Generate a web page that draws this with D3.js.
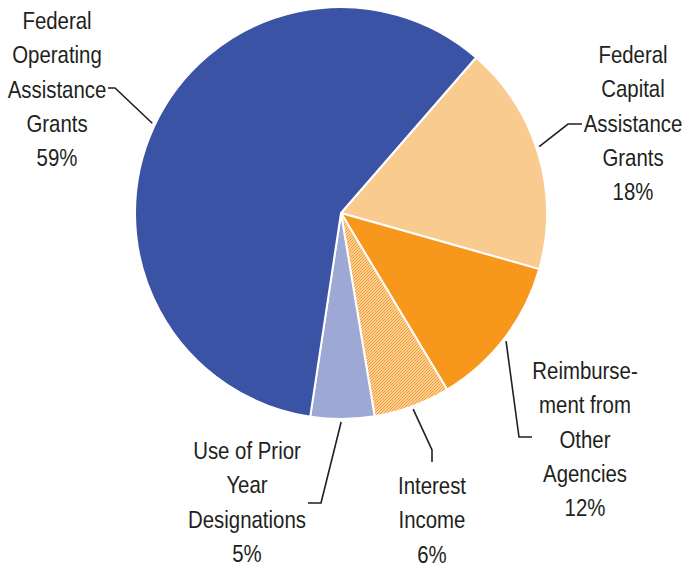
<!DOCTYPE html>
<html>
<head>
<meta charset="utf-8">
<script src="https://cdn.jsdelivr.net/npm/d3@7"></script>
<style>
  html, body { margin: 0; padding: 0; background: #ffffff; }
  svg text { font-family: "Liberation Sans", Arial, sans-serif; fill: #231f20; }
</style>
</head>
<body>
<svg id="chart" width="683" height="569"></svg>
<script>
// Revenue sources, clockwise from the upper right
const categories = [
  "Federal Capital Assistance Grants",
  "Reimbursement from Other Agencies",
  "Interest Income",
  "Use of Prior Year Designations",
  "Federal Operating Assistance Grants"
];
const shares = [18, 12, 6, 5, 59];
const labelLines = [
  ["Federal", "Capital", "Assistance", "Grants", "18%"],
  ["Reimburse-", "ment from", "Other", "Agencies", "12%"],
  ["Interest", "Income", "6%"],
  ["Use of Prior", "Year", "Designations", "5%"],
  ["Federal", "Operating", "Assistance", "Grants", "59%"]
];
const fills = ["#f9cb8f", "#f7981d", "url(#hatch)", "#9da8d4", "#3a53a4"];

const svg = d3.select("#chart");
const cx = 341, cy = 213, radius = 206;
const startDeg = 41;

// Fine orange diagonal hatching for the interest slice
const pat = svg.append("defs").append("pattern")
  .attr("id", "hatch")
  .attr("patternUnits", "userSpaceOnUse")
  .attr("width", 3).attr("height", 3);
pat.append("rect").attr("width", 3).attr("height", 3).attr("fill", "#fde6cc");
pat.append("path")
  .attr("d", "M-1,1 L1,-1 M0,3 L3,0 M2,4 L4,2")
  .attr("stroke", "#f7981d").attr("stroke-width", 1.1);

const pie = d3.pie().sort(null).value(d => d)
  .startAngle(startDeg * Math.PI / 180)
  .endAngle((startDeg + 360) * Math.PI / 180);
const arcs = pie(shares);
const arc = d3.arc().innerRadius(0).outerRadius(radius);

const g = svg.append("g").attr("transform", `translate(${cx},${cy})`);
g.selectAll("path.slice")
  .data(arcs)
  .join("path")
  .attr("class", "slice")
  .attr("d", arc)
  .attr("fill", (d, i) => fills[i])
  .attr("stroke", "#ffffff")
  .attr("stroke-width", 2)
  .attr("stroke-linejoin", "round");

// Label placement: anchor angle on the rim (fraction through the slice),
// elbow and end of the leader, and text block centre
const labelLayout = [
  { t: 0.47,  elbow: [568, 124], end: [582, 124], x: 633, y: 55 },
  { t: 0.51,  elbow: [519, 437], end: [532, 437], x: 585, y: 371 },
  { t: 0.50,  elbow: [432, 450], end: [432, 462], x: 432, y: 486 },
  { t: 0.52,  elbow: [321, 503], end: [308, 503], x: 247, y: 451 },
  { t: 0.503, elbow: [115, 88],  end: [108, 88],  x: 57,  y: 21 }
];
const lineGap = 34.3;
const condense = 0.85;   // narrow face look

arcs.forEach((a, i) => {
  const L = labelLayout[i];
  const ang = a.startAngle + (a.endAngle - a.startAngle) * L.t;
  const r0 = radius + 3;
  const sx = cx + r0 * Math.sin(ang), sy = cy - r0 * Math.cos(ang);
  svg.append("polyline")
    .attr("points", [[sx, sy], L.elbow, L.end].map(p => p.join(",")).join(" "))
    .attr("fill", "none")
    .attr("stroke", "#231f20")
    .attr("stroke-width", 1.6);

  const txt = svg.append("g")
    .attr("transform", `translate(${L.x},${L.y}) scale(${condense},1)`)
    .append("text")
    .attr("text-anchor", "middle")
    .attr("font-size", 24);
  labelLines[i].forEach((s, k) => {
    txt.append("tspan")
      .attr("x", 0)
      .attr("y", k * lineGap)
      .attr("dominant-baseline", "central")
      .text(s);
  });
});
</script>
</body>
</html>
